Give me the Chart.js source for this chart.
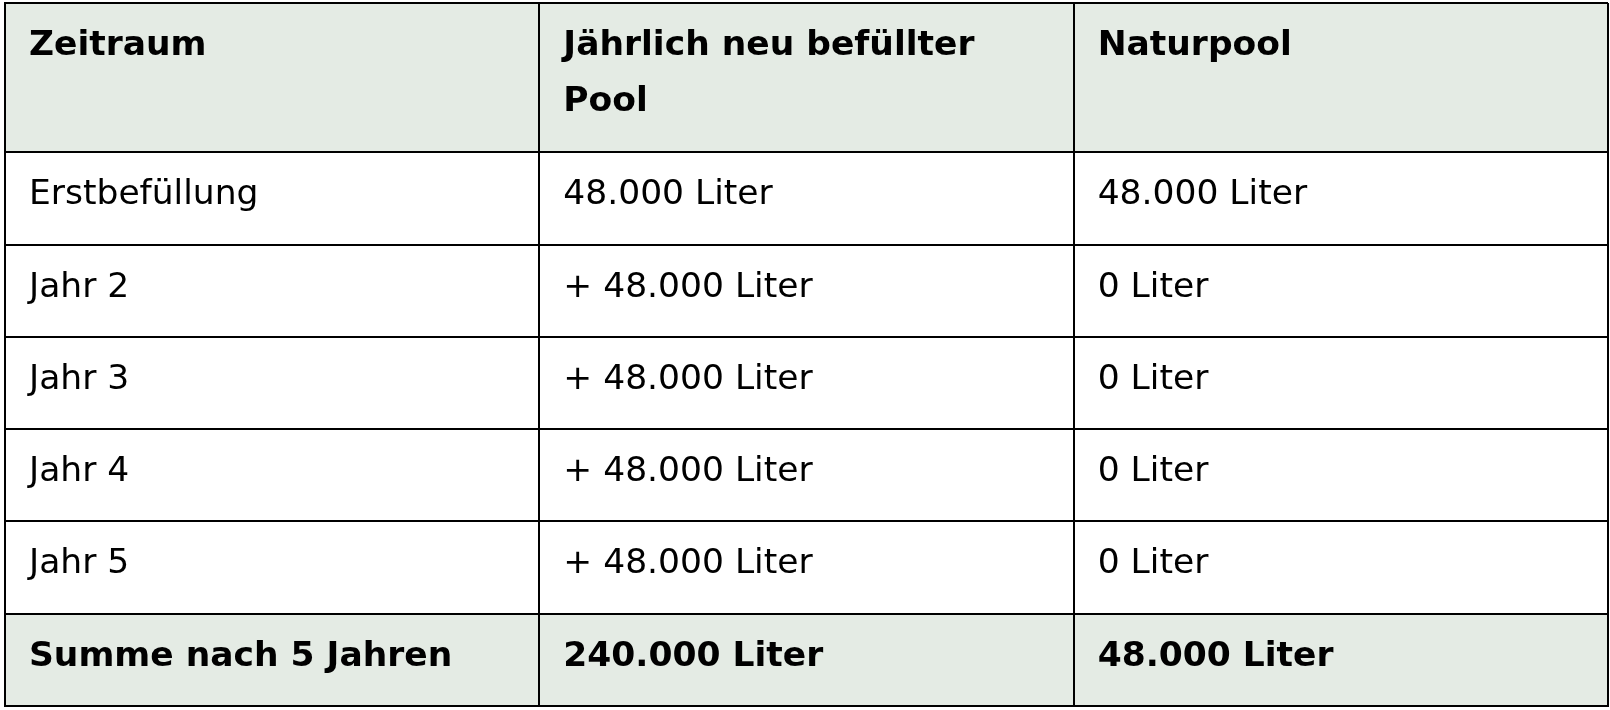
<!DOCTYPE html>
<html lang="de">
<head>
<meta charset="utf-8">
<title>Wasserbedarf: Pool vs. Naturpool</title>
<script src="https://cdn.jsdelivr.net/npm/chart.js@4.4.1/dist/chart.umd.min.js"></script>
<style>
  html, body { margin: 0; padding: 0; background: #fff; }
  #wrap { width: 1610px; height: 710px; }
</style>
</head>
<body>
<div id="wrap"><canvas id="poolTable" width="1610" height="710"></canvas></div>
<script>
const columns = ['Zeitraum', 'Jährlich neu befüllter Pool', 'Naturpool'];
const periods = ['Erstbefüllung', 'Jahr 2', 'Jahr 3', 'Jahr 4', 'Jahr 5'];
const poolLiters = [48000, 48000, 48000, 48000, 48000];
const naturLiters = [48000, 0, 0, 0, 0];
const totalLabel = 'Summe nach 5 Jahren';

const HEADER_SPAN = 1.62;   // header row holds two text lines
const SHADE = '#e4ebe4';
const FONT = '"DejaVu Sans", Verdana, sans-serif';

function liter(n) {
    return String(n).replace(/\B(?=(\d{3})+(?!\d))/g, '.') + ' Liter';
}
const sum = arr => arr.reduce((a, b) => a + b, 0);

// build rows: header, body, total
const rows = [];
rows.push({ top: 0, span: HEADER_SPAN, bold: true, shaded: true, cells: columns });
periods.forEach((p, i) => {
    rows.push({
        top: HEADER_SPAN + i, span: 1, bold: false, shaded: false,
        cells: [p, (i > 0 ? '+ ' : '') + liter(poolLiters[i]), liter(naturLiters[i])]
    });
});
rows.push({
    top: HEADER_SPAN + periods.length, span: 1, bold: true, shaded: true,
    cells: [totalLabel, liter(sum(poolLiters)), liter(sum(naturLiters))]
});

const yMax = HEADER_SPAN + periods.length + 1;
const rowEdges = [0].concat(rows.map(r => r.top + r.span));

const cellPoints = [];
rows.forEach(r => r.cells.forEach((txt, c) => {
    cellPoints.push({ x: c, y: r.top, text: txt, bold: r.bold });
}));

const shadePlugin = {
    id: 'shade',
    beforeDraw(chart) {
        const { ctx, scales: { x, y } } = chart;
        ctx.save();
        ctx.fillStyle = SHADE;
        rows.filter(r => r.shaded).forEach(r => {
            const y0 = y.getPixelForValue(r.top);
            const y1 = y.getPixelForValue(r.top + r.span);
            ctx.fillRect(x.left, y0, x.right - x.left, y1 - y0);
        });
        ctx.restore();
    }
};

const cellTextPlugin = {
    id: 'cellText',
    afterDatasetsDraw(chart) {
        const { ctx, scales: { x } } = chart;
        const meta = chart.getDatasetMeta(0);
        const colW = x.getPixelForValue(1) - x.getPixelForValue(0);
        const pad = 24;
        ctx.save();
        ctx.fillStyle = '#000';
        ctx.textBaseline = 'alphabetic';
        ctx.textAlign = 'left';
        meta.data.forEach((el, i) => {
            const d = cellPoints[i];
            ctx.font = (d.bold ? 'bold ' : '') + '34.5px ' + FONT;
            // simple word wrap inside the cell
            const words = d.text.split(' ');
            const lines = [];
            let line = '';
            words.forEach(w => {
                const test = line ? line + ' ' + w : w;
                if (line && ctx.measureText(test).width > colW - 2 * pad) {
                    lines.push(line);
                    line = w;
                } else {
                    line = test;
                }
            });
            lines.push(line);
            lines.forEach((l, k) => ctx.fillText(l, el.x + pad, el.y + 52 + k * 56));
        });
        ctx.restore();
    }
};

new Chart(document.getElementById('poolTable').getContext('2d'), {
    type: 'scatter',
    data: {
        datasets: [{
            data: cellPoints,
            pointRadius: 0,
            pointHoverRadius: 0
        }]
    },
    options: {
        responsive: false,
        animation: false,
        devicePixelRatio: 1,
        events: [],
        layout: { padding: { left: 5, top: 3, right: 2, bottom: 4 } },
        plugins: { legend: { display: false }, tooltip: { enabled: false } },
        scales: {
            x: {
                type: 'linear',
                min: 0,
                max: columns.length,
                afterBuildTicks: s => { s.ticks = columns.map((c, i) => ({ value: i })).concat([{ value: columns.length }]); },
                ticks: { display: false },
                grid: { color: '#000', lineWidth: 2, drawTicks: false },
                border: { display: true, color: '#000', width: 2 }
            },
            y: {
                type: 'linear',
                reverse: true,
                min: 0,
                max: yMax,
                afterBuildTicks: s => { s.ticks = rowEdges.map(v => ({ value: v })); },
                ticks: { display: false },
                grid: { color: '#000', lineWidth: 2, drawTicks: false },
                border: { display: true, color: '#000', width: 2 }
            }
        }
    },
    plugins: [shadePlugin, cellTextPlugin]
});
</script>
</body>
</html>
